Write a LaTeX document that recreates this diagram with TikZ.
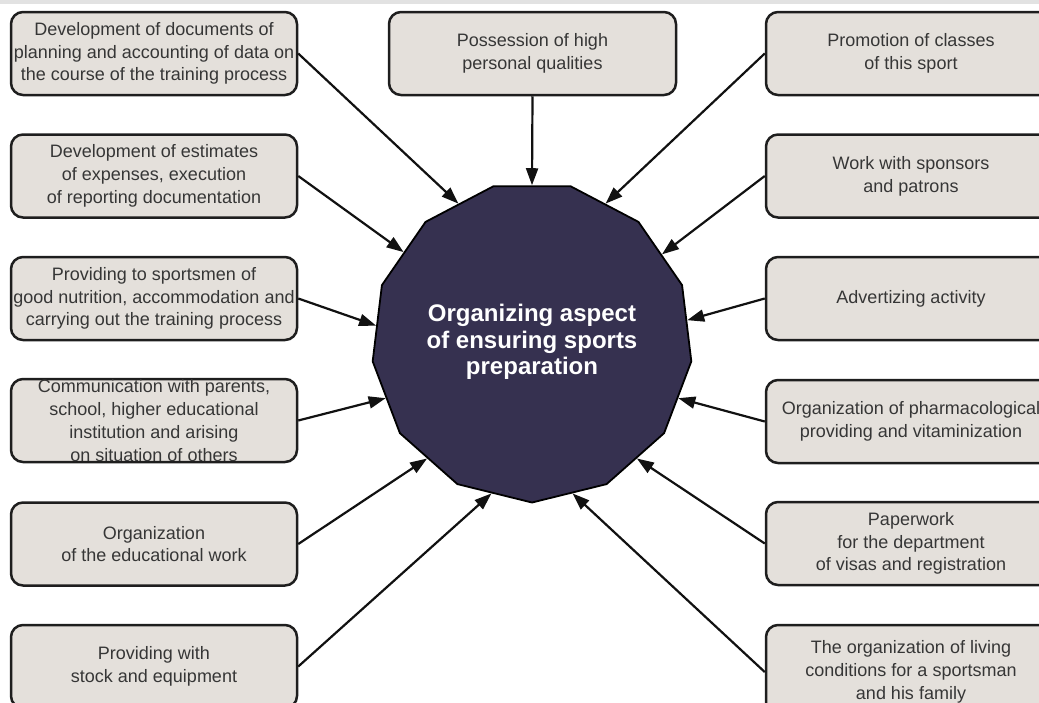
\documentclass[tikz,border=0pt]{standalone}
\usepackage{fontspec}
\setmainfont{Liberation Sans}
\usetikzlibrary{shapes.geometric,arrows.meta}
\definecolor{boxfill}{HTML}{E4E0DB}
\definecolor{boxline}{HTML}{1E1E1E}
\definecolor{txt}{HTML}{363636}
\definecolor{hub}{HTML}{363150}
\definecolor{topbar}{HTML}{E2E2E2}
\definecolor{arrcol}{HTML}{111111}
\begin{document}
\begin{tikzpicture}[x=1pt,y=-1pt,
  box/.style={draw=boxline, line width=2.5pt, fill=boxfill, rounded corners=12pt,
    minimum width=286pt, minimum height=83pt, align=center, text=txt,
    font=\fontsize{18}{22.8}\selectfont, inner sep=0pt},
  hubnode/.style={regular polygon, regular polygon sides=13, shape border rotate=180,
    minimum size=321pt, inner sep=0pt, fill=hub, draw=black, line width=1.8pt,
    text=white, align=center, font=\fontsize{24}{26.5}\selectfont\bfseries},
  arr/.style={-{Triangle[length=17pt,width=12pt]}, line width=2.2pt, draw=arrcol}]
\useasboundingbox (0,0) rectangle (1039,702);
\clip (0,0) rectangle (1039,702);
\fill[topbar] (0,0) rectangle (1039,3.5);

\node[hubnode] (c) at (532,342) {Organizing aspect\\of ensuring sports\\preparation};

\node[box] (l1) at (154,53.5) {Development of documents of\\planning and accounting of data on\\the course of the training process};
\node[box] (l2) at (154,176) {Development of estimates\\of expenses, execution\\of reporting documentation};
\node[box] (l3) at (154,298.5) {Providing to sportsmen of\\good nutrition, accommodation and\\carrying out the training process};
\node[box] (l4) at (154,420.5) {Communication with parents,\\school, higher educational\\institution and arising\\on situation of others};
\node[box] (l5) at (154,544) {Organization\\of the educational work};
\node[box] (l6) at (154,666.5) {Providing with\\stock and equipment};

\node[box, minimum width=287pt] (t) at (532.5,53.5) {Possession of high\\personal qualities};

\node[box, minimum width=290pt] (r1) at (911,53.5) {Promotion of classes\\of this sport};
\node[box, minimum width=290pt] (r2) at (911,176) {Work with sponsors\\and patrons};
\node[box, minimum width=290pt] (r3) at (911,298.5) {Advertizing activity};
\node[box, minimum width=290pt] (r4) at (911,421.5) {Organization of pharmacological\\providing and vitaminization};
\node[box, minimum width=290pt] (r5) at (911,543.5) {Paperwork\\for the department\\of visas and registration};
\node[box, minimum width=290pt, minimum height=94pt] (r6) at (911,672) {The organization of living\\conditions for a sportsman\\and his family};

\draw[arr] (l1.east) -- (c.118);
\draw[arr] (l2.east) -- (c.145.6);
\draw[arr] (l3.east) -- (c.174);
\draw[arr] (l4.east) -- (c.201.5);
\draw[arr] (l5.east) -- (c.228.8);
\draw[arr] (l6.east) -- (c.255.3);
\draw[arr] (t.south) -- (c.90);
\draw[arr] (r1.west) -- (c.62.3);
\draw[arr] (r2.west) -- (c.34.7);
\draw[arr] (r3.west) -- (c.8);
\draw[arr] (r4.west) -- (c.-21);
\draw[arr] (r5.west) -- (c.-48.5);
\draw[arr] (r6.west) -- (c.-75.9);
\end{tikzpicture}
\end{document}
